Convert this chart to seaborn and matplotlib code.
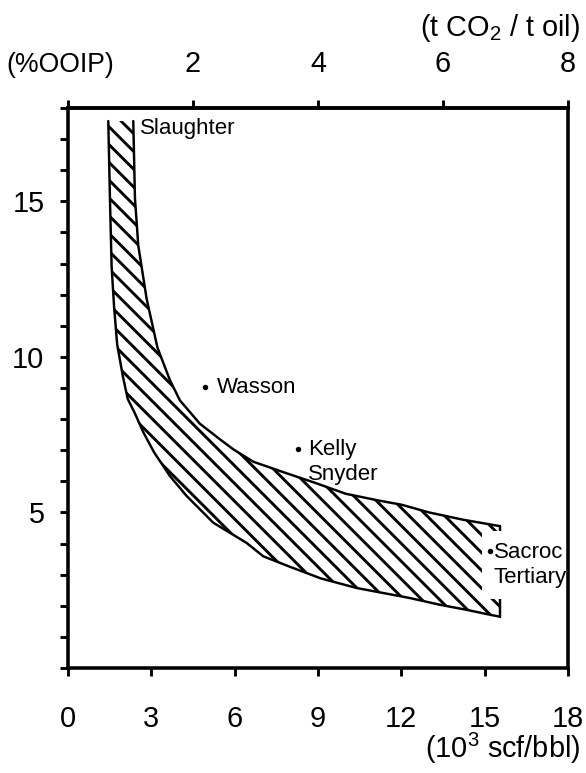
import matplotlib
matplotlib.use('Agg')
import matplotlib.pyplot as plt
from matplotlib.ticker import MultipleLocator
import pandas as pd
import seaborn as sns

# right / upper edge of the band, from the top down to the right end
upper_x = [2.35, 2.41, 2.53, 2.83, 3.22, 3.67, 4.03, 4.75, 5.47, 5.95, 6.67,
           7.8, 8.9, 10.0, 11.2, 12.0, 13.0, 14.2, 15.55]
upper_y = [17.58, 15.1, 13.58, 11.87, 10.3, 9.25, 8.6, 7.85, 7.35, 7.03, 6.63,
           6.28, 5.95, 5.6, 5.38, 5.25, 5.0, 4.77, 4.56]

# left / lower edge of the band
lower_x = [1.45, 1.51, 1.57, 1.66, 1.77, 1.97, 2.15, 2.4, 2.71, 3.1, 3.67,
           4.27, 5.23, 6.43, 7.03, 8.0, 9.1, 10.4, 11.35, 12.3, 13.4, 14.35,
           15.2, 15.55]
lower_y = [17.58, 15.1, 12.9, 11.6, 10.4, 9.4, 8.65, 8.2, 7.58, 6.93, 6.17,
           5.53, 4.67, 4.02, 3.59, 3.25, 2.88, 2.57, 2.41, 2.25, 2.03, 1.87,
           1.71, 1.65]

# field points
field_names = ['Wasson', 'Kelly\nSnyder', 'Sacroc\nTertiary']
field_x = [4.93, 8.28, 15.18]
field_y = [9.02, 7.03, 3.75]

bottom_ticks = [0, 3, 6, 9, 12, 15, 18]
top_ticks = [0, 2, 4, 6, 8]
top_labels = ['', '2', '4', '6', '8']
y_ticks = [5, 10, 15]

sns.set_style('ticks', rc={'text.color': 'black', 'xtick.color': 'black',
                           'ytick.color': 'black', 'axes.edgecolor': 'black'})
plt.rcParams['font.family'] = ['Liberation Sans Narrow', 'Liberation Sans', 'DejaVu Sans']
plt.rcParams['mathtext.fontset'] = 'custom'
plt.rcParams['mathtext.rm'] = 'Liberation Sans'
plt.rcParams['hatch.linewidth'] = 1.3
plt.rcParams['hatch.color'] = 'black'

DPI = 160
fig = plt.figure(figsize=(586 / DPI, 773 / DPI), dpi=DPI)
ax = fig.add_axes([68 / 586, 105 / 773, 500 / 586, 560 / 773])

# hatched band
ax.fill(upper_x + lower_x[::-1], upper_y + lower_y[::-1],
        facecolor='white', edgecolor='black', linewidth=0, hatch='\\' * 3, zorder=1)

edges = pd.DataFrame({'x': upper_x + lower_x,
                      'y': upper_y + lower_y,
                      'edge': ['upper'] * len(upper_x) + ['lower'] * len(lower_x)})
sns.lineplot(data=edges, x='x', y='y', units='edge', estimator=None, sort=False,
             color='black', linewidth=1.1, ax=ax, zorder=2)
ax.plot([upper_x[-1], lower_x[-1]], [upper_y[-1], lower_y[-1]],
        color='black', linewidth=1.1, zorder=2)

sns.scatterplot(x=field_x, y=field_y, color='black', s=6, linewidth=0, ax=ax, zorder=5)

txt = dict(fontsize=10, color='black', linespacing=1.25)
ax.text(2.59, 17.35, 'Slaughter', ha='left', va='center', **txt)
ax.text(5.35, 9.03, field_names[0], ha='left', va='center', **txt)
ax.text(8.63, 6.63, field_names[1], ha='left', va='center', **txt)
ax.text(15.32, 3.32, field_names[2], ha='left', va='center', zorder=4,
        bbox=dict(facecolor='white', edgecolor='none', pad=5), **txt)

ax.set_xlim(0, 18)
ax.set_ylim(0, 18)
ax.set_xlabel('')
ax.set_ylabel('')
ax.set_xticks(bottom_ticks)
ax.set_yticks(y_ticks)
ax.yaxis.set_minor_locator(MultipleLocator(1))

for side in ['left', 'right', 'top', 'bottom']:
    ax.spines[side].set_linewidth(1.6)
    ax.spines[side].set_color('black')
    ax.spines[side].set_zorder(10)

ax.tick_params(axis='x', which='major', direction='out', length=3.6, width=1.3,
               labelsize=13, pad=13, color='black', labelcolor='black')
ax.tick_params(axis='y', which='both', direction='out', length=3.6, width=1.3,
               labelsize=13, pad=7, color='black', labelcolor='black')

top = ax.secondary_xaxis('top', functions=(lambda v: v / 2.25, lambda v: v * 2.25))
top.set_xticks(top_ticks)
top.set_xticklabels(top_labels)
top.tick_params(direction='out', length=3.6, width=1.3, labelsize=13, pad=10,
                color='black', labelcolor='black')
top.spines['top'].set_linewidth(1.6)

fig.text(6 / 586, 1 - 65 / 773, '(%OOIP)', ha='left', va='center', fontsize=12)
fig.text(580 / 586, 1 - 28 / 773, r'(t CO$_\mathrm{2}$ / t oil)', ha='right',
         va='center', fontsize=13)
fig.text(580 / 586, 1 - 748 / 773, r'(10$^\mathrm{3}$ scf/bbl)', ha='right',
         va='center', fontsize=13)

fig.savefig('out.png', dpi=DPI, facecolor='white')
